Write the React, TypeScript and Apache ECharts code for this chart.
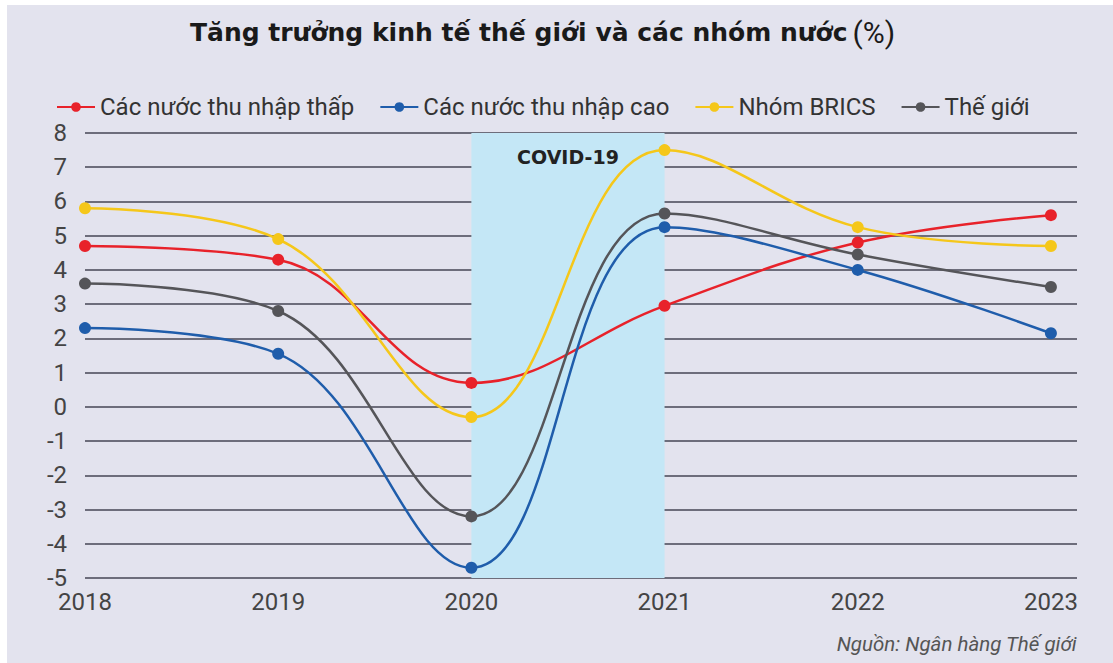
import React, { useEffect, useRef } from "react";
import * as echarts from "echarts";

const years = [2018, 2019, 2020, 2021, 2022, 2023];
const seriesNames = ["Các nước thu nhập thấp", "Các nước thu nhập cao", "Nhóm BRICS", "Thế giới"];
const lowIncome = [4.7, 4.3, 0.7, 2.95, 4.8, 5.6];
const highIncome = [2.3, 1.55, -4.7, 5.25, 4.0, 2.15];
const brics = [5.8, 4.9, -0.3, 7.5, 5.25, 4.7];
const world = [3.6, 2.8, -3.2, 5.65, 4.45, 3.5];
const covidRange = [2020, 2021];
const colors = ["#e8222a", "#1f5dab", "#f5c71a", "#555559"];

const FONT = "Roboto, 'Noto Sans', sans-serif";
const WIDE = "'DejaVu Sans', Roboto, sans-serif";

export default function App() {
  const ref = useRef<HTMLDivElement>(null);
  useEffect(() => {
    if (!ref.current) return;
    const chart = echarts.init(ref.current, null, { renderer: "svg" });
    const allData = [lowIncome, highIncome, brics, world];
    const series: any[] = allData.map((d, i) => ({
      name: seriesNames[i],
      type: "line",
      smooth: 0.4,
      symbol: "circle",
      symbolSize: 12,
      data: d.map((v, j) => [years[j], v]),
      lineStyle: { color: colors[i], width: 2.5 },
      itemStyle: { color: colors[i] },
      z: 3 + i,
    }));
    series[0].markArea = {
      silent: true,
      itemStyle: { color: "#c4e7f6" },
      label: {
        show: true,
        position: "insideTop",
        distance: 14,
        formatter: "COVID-19",
        fontFamily: WIDE,
        fontWeight: "bold",
        fontSize: 19,
        color: "#222",
      },
      data: [[{ xAxis: covidRange[0] }, { xAxis: covidRange[1] }]],
      z: 1,
    };
    chart.setOption({
      animation: false,
      backgroundColor: "#ffffff",
      graphic: [
        {
          type: "rect",
          shape: { x: 7, y: 5, width: 1106, height: 658 },
          style: { fill: "#e3e3ee" },
          z: -10,
          silent: true,
        },
        {
          type: "text",
          right: 36,
          top: 634,
          style: {
            text: "Nguồn: Ngân hàng Thế giới",
            font: `italic 20.5px ${FONT}`,
            fill: "#555",
          },
        },
      ],
      title: {
        text: "{b|Tăng trưởng kinh tế thế giới và các nhóm nước} {r|(%)}",
        left: 185,
        top: 12,
        textStyle: {
          rich: {
            b: { fontFamily: WIDE, fontWeight: "bold", fontSize: 25, color: "#1a1a1a" },
            r: { fontFamily: FONT, fontWeight: "normal", fontSize: 30, color: "#1a1a1a" },
          },
        },
      },
      legend: {
        top: 90,
        left: 51,
        itemWidth: 38,
        itemHeight: 12,
        itemGap: 25,
        textStyle: { fontFamily: FONT, fontSize: 24, color: "#333" },
        data: seriesNames,
      },
      grid: { left: 85, right: 36, top: 133, bottom: 85 },
      xAxis: {
        type: "value",
        min: 2018,
        max: 2023.135,
        interval: 1,
        axisLine: { show: false },
        axisTick: { show: false },
        splitLine: { show: false },
        axisLabel: {
          fontFamily: FONT,
          fontSize: 24,
          color: "#444",
          margin: 12,
          showMaxLabel: false,
          formatter: (v: number) => (Number.isInteger(v) ? String(v) : ""),
        },
      },
      yAxis: {
        type: "value",
        min: -5,
        max: 8,
        interval: 1,
        axisLine: { show: false },
        axisTick: { show: false },
        splitLine: { lineStyle: { color: "#6d6d7b", width: 2 } },
        axisLabel: { fontFamily: FONT, fontSize: 24, color: "#444", margin: 18 },
      },
      series,
    });
    return () => chart.dispose();
  }, []);
  return (
    <div
      ref={ref}
      style={{ position: "fixed", left: 0, top: 0, width: 1113, height: 663 }}
    />
  );
}
